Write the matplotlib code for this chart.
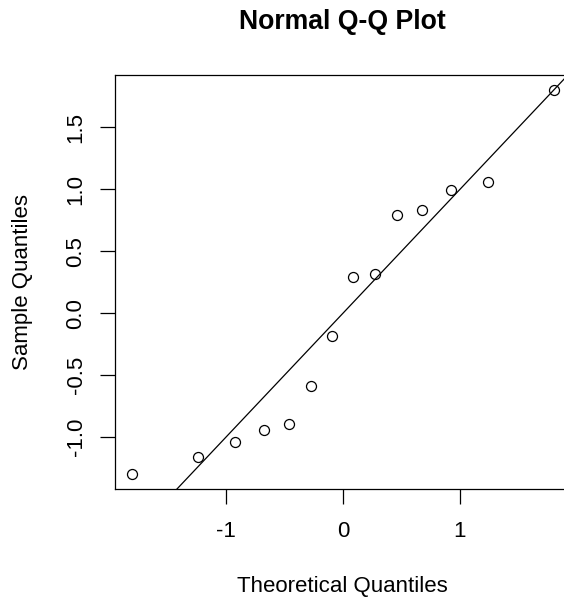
import matplotlib
matplotlib.use("Agg")
import matplotlib.pyplot as plt
import numpy as np

plt.rcParams['font.family'] = ['Liberation Sans', 'DejaVu Sans']
plt.rcParams['axes.unicode_minus'] = False

# theoretical normal quantiles (n = 14) and sorted sample values
theoretical = [-1.803, -1.242, -0.921, -0.674, -0.464, -0.272, -0.090,
               0.090, 0.272, 0.464, 0.674, 0.921, 1.242, 1.803]
sample = [-1.294, -1.160, -1.039, -0.944, -0.890, -0.588, -0.184,
          0.296, 0.318, 0.793, 0.830, 0.995, 1.057, 1.799]

xticks = [-1, 0, 1]
xticklabels = ['-1', '0', '1']
yticks = [-1.0, -0.5, 0.0, 0.5, 1.0, 1.5]
yticklabels = ['-1.0', '-0.5', '0.0', '0.5', '1.0', '1.5']

W, H = 564, 597
fig = plt.figure(figsize=(W / 100, H / 100), dpi=100)
ax = fig.add_axes([115 / W, 108 / H, 455.8 / W, 414 / H])

ax.plot(theoretical, sample, linestyle='none', marker='o', markersize=7.2,
        markerfacecolor='none', markeredgecolor='black', markeredgewidth=0.9)
# reference line y = x
ax.axline((0, 0), slope=1, color='black', linewidth=0.9)

# R-style 4% range extension
def padded(v):
    lo, hi = min(v), max(v)
    d = 0.04 * (hi - lo)
    return lo - d, hi + d

ax.set_xlim(*padded(theoretical))
ax.set_ylim(*padded(sample))

ax.set_xticks(xticks)
ax.set_xticklabels(xticklabels)
ax.set_yticks(yticks)
ax.set_yticklabels(yticklabels, rotation=90, va='center')
ax.tick_params(axis='x', length=10.5, width=0.9, labelsize=16, pad=12.5)
ax.tick_params(axis='y', length=10.5, width=0.9, labelsize=16, pad=10)
for s in ax.spines.values():
    s.set_linewidth(0.9)

fig.text(342.8 / W, (H - 29.3) / H, 'Normal Q-Q Plot', ha='center',
         va='baseline', fontsize=19.2, fontweight='bold')
fig.text(342.8 / W, (H - 591.7) / H, 'Theoretical Quantiles', ha='center',
         va='baseline', fontsize=16)
fig.text(28 / W, (H - 281.7) / H, 'Sample Quantiles', ha='center',
         va='baseline', fontsize=16, rotation=90, rotation_mode='anchor')

fig.savefig('out.png', dpi=100)
